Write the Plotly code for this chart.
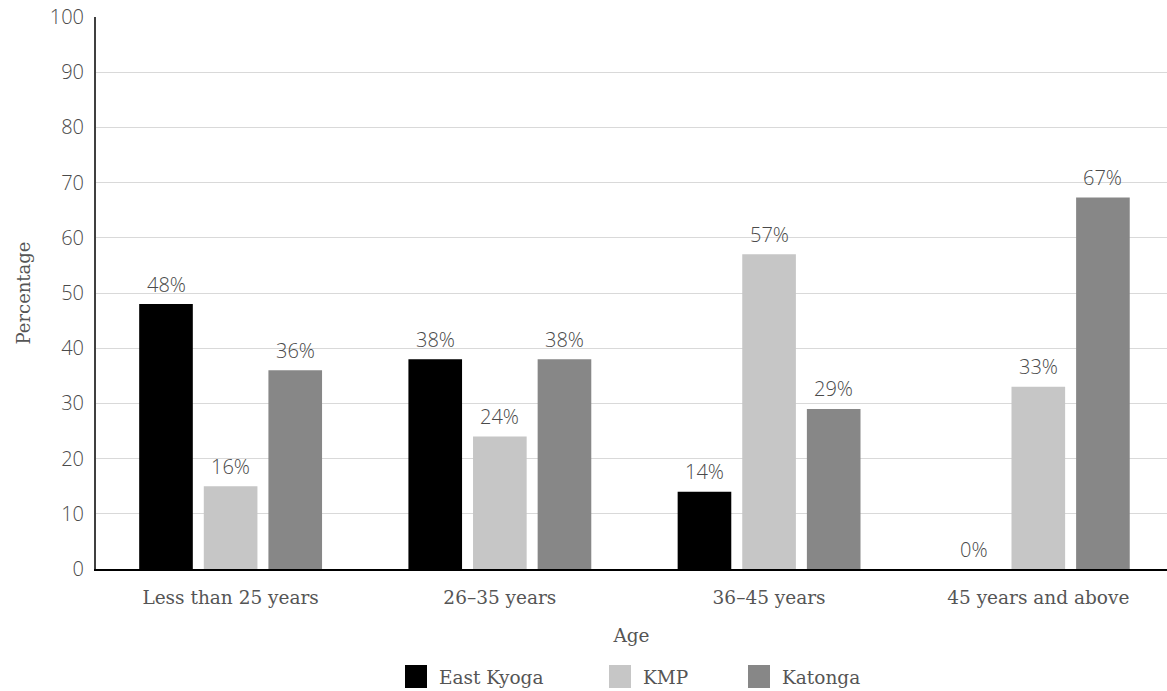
import plotly.graph_objects as go

categories = ["Less than 25 years", "26–35 years", "36–45 years", "45 years and above"]
series_names = ["East Kyoga", "KMP", "Katonga"]
east_kyoga = [48, 38, 14, 0]
kmp = [15, 24, 57, 33]
katonga = [36, 38, 29, 67.3]
east_kyoga_labels = ["48%", "38%", "14%", "0%"]
kmp_labels = ["16%", "24%", "57%", "33%"]
katonga_labels = ["36%", "38%", "29%", "67%"]
y_ticks = list(range(0, 101, 10))

colors = ["#000000", "#c6c6c6", "#878787"]
values = [east_kyoga, kmp, katonga]
labels = [east_kyoga_labels, kmp_labels, katonga_labels]

SANS = "Open Sans, sans-serif"
SERIF = "DejaVu Serif, serif"
GREY = "#555555"
LGREY = "#4a4a4a"

W, H = 1167, 691
L, R, T, B = 96, 0, 17, 122
pw = W - L - R
ph = H - T - B
X_RANGE = [-0.5, 3.478]
BARGAP, GROUPGAP = 0.28, 0.17
unit = pw / (X_RANGE[1] - X_RANGE[0])
slot = unit * (1 - BARGAP) / len(series_names)

fig = go.Figure()
for i, (name, vals, labs, col) in enumerate(zip(series_names, values, labels, colors)):
    fig.add_trace(go.Bar(
        x=categories, y=vals, name=name, marker_color=col,
        marker_line_width=0, showlegend=False,
    ))
    for cat, v, lab in zip(categories, vals, labs):
        fig.add_annotation(x=cat, y=v, text=lab, showarrow=False,
                           xshift=(i - 1) * slot, yshift=20,
                           yanchor="middle", xanchor="center",
                           font=dict(family=SANS, size=20, color=LGREY, weight=300))

# manual legend
legend_x_px = [405, 609, 748]
for name, col, xp in zip(series_names, colors, legend_x_px):
    fig.add_shape(type="rect", xref="paper", yref="paper",
                  x0=(xp - L) / pw, x1=(xp + 22 - L) / pw,
                  y0=(H - B - 688) / ph, y1=(H - B - 665) / ph,
                  fillcolor=col, line_width=0)
    fig.add_annotation(xref="paper", yref="paper", x=(xp + 32 - L) / pw,
                       y=(H - B - 677) / ph, text=name, showarrow=False,
                       xanchor="left", yanchor="middle",
                       font=dict(family=SERIF, size=18.5, color=GREY, weight=300))

fig.update_layout(
    width=W, height=H,
    margin=dict(l=L, r=R, t=T, b=B),
    paper_bgcolor="white", plot_bgcolor="white",
    barmode="group", bargap=BARGAP, bargroupgap=GROUPGAP,
    xaxis=dict(
        range=X_RANGE,
        showline=True, linecolor="#000000", linewidth=1.5,
        tickfont=dict(family=SERIF, size=18.5, color=GREY, weight=300),
        ticks="", ticklabelstandoff=11,
        title=dict(text="Age", font=dict(family=SERIF, size=18.5, color=GREY, weight=300), standoff=22),
    ),
    yaxis=dict(
        range=[0, 100], tickvals=y_ticks,
        showgrid=True, gridcolor="#d9d9d9", gridwidth=1,
        showline=True, linecolor="#404040", linewidth=2,
        zeroline=False,
        tickfont=dict(family=SANS, size=20, color=LGREY, weight=300),
        ticks="", ticklabelstandoff=6,
        title=dict(text="Percentage", font=dict(family=SERIF, size=18, color=GREY, weight=300), standoff=14),
    ),
)

fig.write_html("out.html")
